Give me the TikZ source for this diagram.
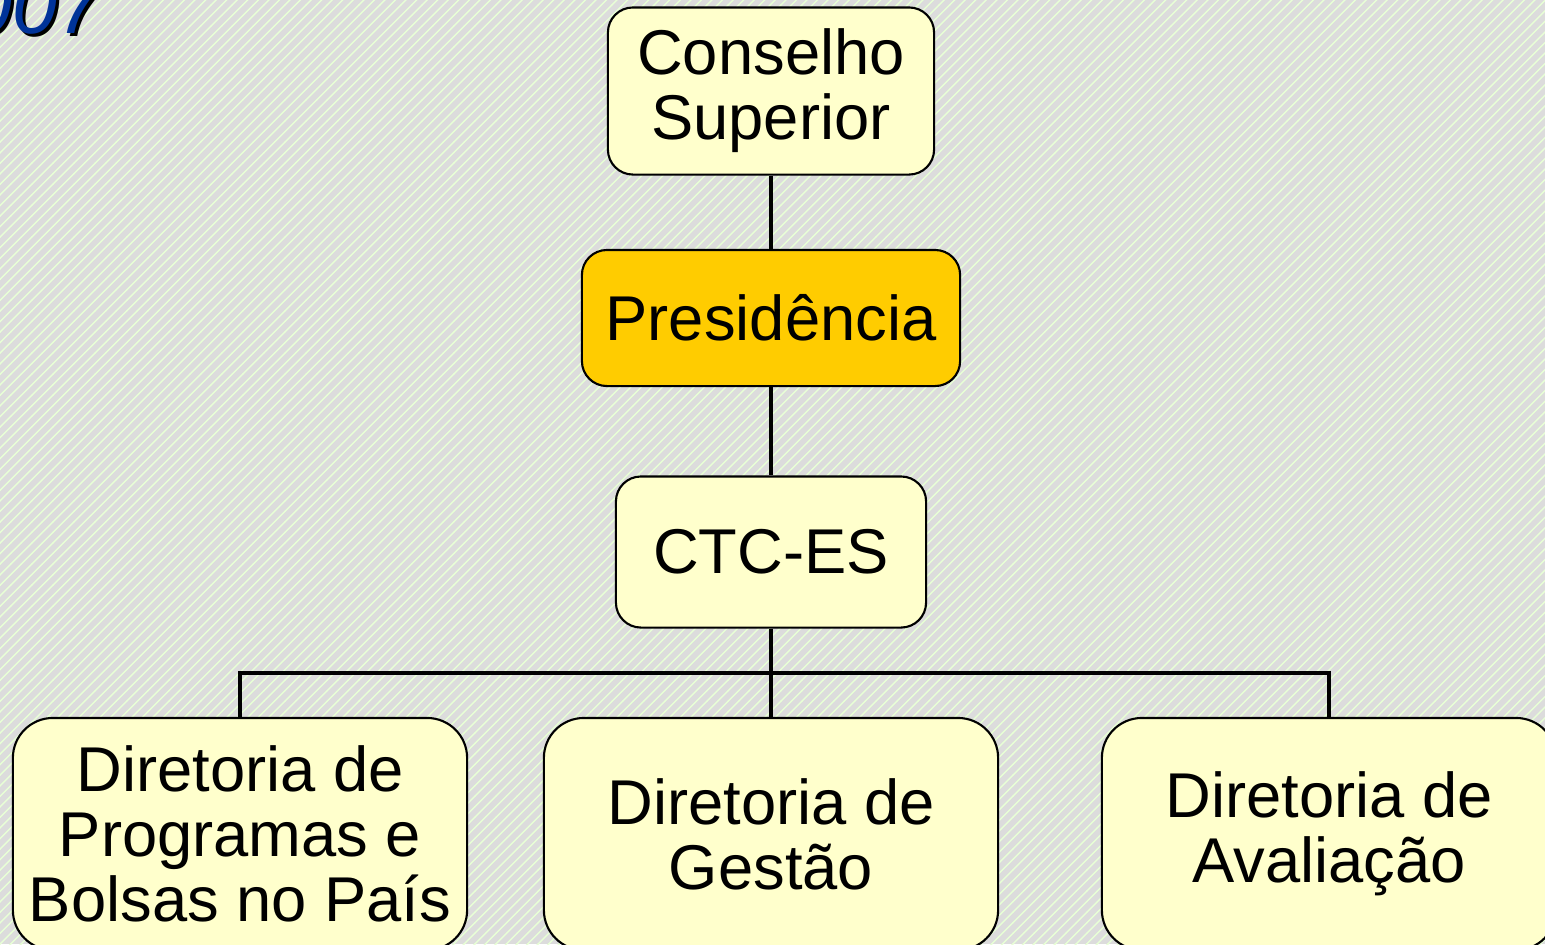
\documentclass[tikz,border=0pt]{standalone}
\usepackage{fontspec}
\setmainfont{Liberation Sans}
\usetikzlibrary{patterns}
\definecolor{bggray}{RGB}{220,220,220}
\definecolor{stripegreen}{RGB}{232,255,214}
\definecolor{boxyellow}{RGB}{255,255,204}
\definecolor{presgold}{RGB}{255,204,0}
\definecolor{titleblue}{RGB}{0,51,153}

\begin{document}
\begin{tikzpicture}[x=0.01cm,y=-0.01cm,
	orgbox/.style={draw=black,line width=0.6pt,fill=boxyellow,rounded corners=0.25cm,align=center,inner sep=0pt,font=\fontsize{18}{18.5}\selectfont},
	dirbox/.style={orgbox,minimum width=4.54cm,minimum height=2.32cm,rounded corners=0.4cm},
	link/.style={line width=1pt},
	yeartext/.style={font=\fontsize{23}{23}\selectfont\itshape,inner sep=0pt,anchor=base east}]
		\useasboundingbox (0,0) rectangle (1545,944);
		\clip (0,0) rectangle (1545,944);
		\fill[bggray] (0,0) rectangle (1545,944);
		\fill[pattern=north east lines,pattern color=stripegreen] (0,0) rectangle (1545,944);
		
		%\node at (0,0) {title};
		\node[yeartext,text=black] (yrshadow) at (106,36) {007};
		\node[yeartext,text=titleblue] (yr) at (103,33) {007};
		
		\node[orgbox,minimum width=3.26cm,minimum height=1.67cm] (cons) at (771,91) {Conselho\\Superior};
		\node[orgbox,fill=presgold,minimum width=3.78cm,minimum height=1.36cm] (pres) at (771,318) {Presidência};
		\node[orgbox,minimum width=3.10cm,minimum height=1.51cm] (ctc) at (771,552) {CTC-ES};
		
		\node[dirbox] (dpb) at (240,834) {Diretoria de\\Programas e\\Bolsas no País};
		\node[dirbox] (dg) at (771,834) {Diretoria de\\Gestão};
		\node[dirbox] (da) at (1329,834) {Diretoria de\\Avaliação};
		
		\coordinate (split) at (771,673);
		\draw[link] (cons) -- (pres);
		\draw[link] (pres) -- (ctc);
		\draw[link] (ctc) -- (split);
		\draw[link] (dpb.north) |- (split) -| (da.north);
		\draw[link] (split) -- (dg);
\end{tikzpicture}
\end{document}
